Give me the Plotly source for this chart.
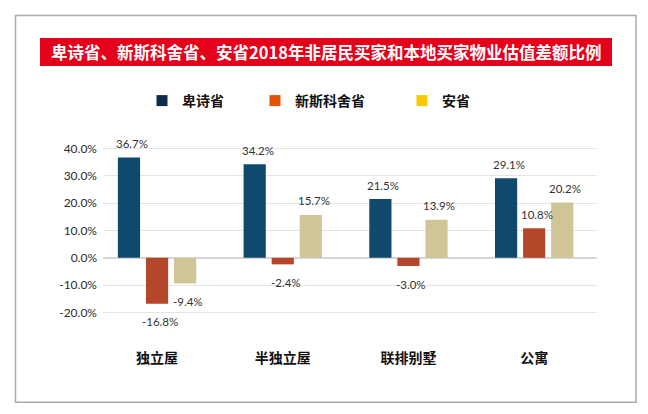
import plotly.graph_objects as go

# 数据
categories = ['独立屋', '半独立屋', '联排别墅', '公寓']
series_names = ['卑诗省', '新斯科舍省', '安省']
bc_vals = [0.367, 0.342, 0.215, 0.291]
ns_vals = [-0.168, -0.024, -0.030, 0.108]
on_vals = [-0.094, 0.157, 0.139, 0.202]
y_tickvals = [-0.2, -0.1, 0.0, 0.1, 0.2, 0.3, 0.4]
y_ticktext = ['-20.0%', '-10.0%', '0.0%', '10.0%', '20.0%', '30.0%', '40.0%']
title_text = '卑诗省、新斯科舍省、安省2018年非居民买家和本地买家物业估值差额比例'

bar_colors = ['#0f4a6d', '#b4472a', '#cfc596']
legend_colors = ['#0c2c4b', '#e25307', '#f8c900']

# 页面默认 body margin 是 8px，所以图整体往左上挪 8px
OFF = 8
W, H = 632, 398
# 绘图区在参考图里: x 103..597, y 143..347.8
L, R = 103 - OFF, W - (597 - OFF)
T, B = 143 - OFF, H - (347.8 - OFF)
cjk = 'Noto Sans CJK SC'
num_font = 'Lato'
slot_px = 28  # 组内相邻两根柱子的间距


def px_x(px):
    # 参考图的像素 -> paper 坐标
    return (px - OFF - L) / (W - L - R)


def px_y(py):
    return (H - B - (py - OFF)) / (H - T - B)


fig = go.Figure()

all_vals = [bc_vals, ns_vals, on_vals]
for vals, name, col in zip(all_vals, series_names, bar_colors):
    fig.add_trace(go.Bar(
        x=categories, y=vals, name=name, showlegend=False,
        marker=dict(color=col, line=dict(width=0)),
        cliponaxis=False,
    ))

# 数值标签，正数在上，负数在下，离柱子稍远一点
label_anns = []
for k, vals in enumerate(all_vals):
    for cat, v in zip(categories, vals):
        label_anns.append(dict(
            x=cat, y=v, xref='x', yref='y', text=f'{v * 100:.1f}%',
            showarrow=False, xanchor='center', yanchor='middle',
            xshift=(k - 1) * slot_px + 3, yshift=14 if v >= 0 else -18,
            font=dict(family=num_font, size=11.5, color='#333333'),
        ))

# 图例(颜色和柱子不一样)
legend_keys = ['legend', 'legend2', 'legend3']
legend_px = [142, 255, 402]
for name, col, lk in zip(series_names, legend_colors, legend_keys):
    fig.add_trace(go.Scatter(
        x=[None], y=[None], mode='markers', name=name, legend=lk,
        marker=dict(symbol='square', size=11, color=col),
    ))

legend_style = dict(orientation='h', xref='container', yref='container',
                    xanchor='left', yanchor='middle', y=1 - (101 - OFF) / H,
                    bgcolor='rgba(0,0,0,0)',
                    font=dict(family=cjk, size=14, color='#111111', weight='bold'))
fig.update_layout(
    legend=dict(x=(legend_px[0] - OFF) / W, **legend_style),
    legend2=dict(x=(legend_px[1] - OFF) / W, **legend_style),
    legend3=dict(x=(legend_px[2] - OFF) / W, **legend_style),
)

fig.update_layout(
    width=W, height=H,
    margin=dict(l=L, r=R, t=T, b=B),
    paper_bgcolor='white', plot_bgcolor='white',
    barmode='group', bargap=0.33, bargroupgap=0.21,
    xaxis=dict(range=[-0.43, 3.5], showgrid=False, showline=False, ticks='',
               tickfont=dict(family=cjk, size=14, color='#111111', weight='bold')),
    yaxis=dict(range=[-0.33, 0.42], tickvals=y_tickvals, ticktext=y_ticktext,
               showgrid=True, gridcolor='#e4e4e4', gridwidth=1,
               zeroline=True, zerolinecolor='#d6d6d6', zerolinewidth=2,
               showline=False, ticks='', ticklabelstandoff=5,
               tickfont=dict(family=num_font, size=12, color='#2b2b2b')),
    shapes=[
        # 外框
        dict(type='rect', xref='paper', yref='paper',
             x0=px_x(15.5), x1=px_x(636), y0=px_y(402), y1=px_y(15.5),
             line=dict(color='#ababab', width=1.5), fillcolor='rgba(0,0,0,0)', layer='below'),
        # 红色标题条
        dict(type='rect', xref='paper', yref='paper',
             x0=px_x(40), x1=px_x(612), y0=px_y(66), y1=px_y(38),
             line=dict(width=0), fillcolor='#e5001b', layer='below'),
    ],
    annotations=[
        dict(text=title_text, xref='paper', yref='paper',
             x=px_x(326), y=px_y(52), xanchor='center', yanchor='middle',
             showarrow=False,
             font=dict(family=cjk, size=16.5, color='white', weight='bold')),
    ] + label_anns,
)

fig.write_html('out.html')
